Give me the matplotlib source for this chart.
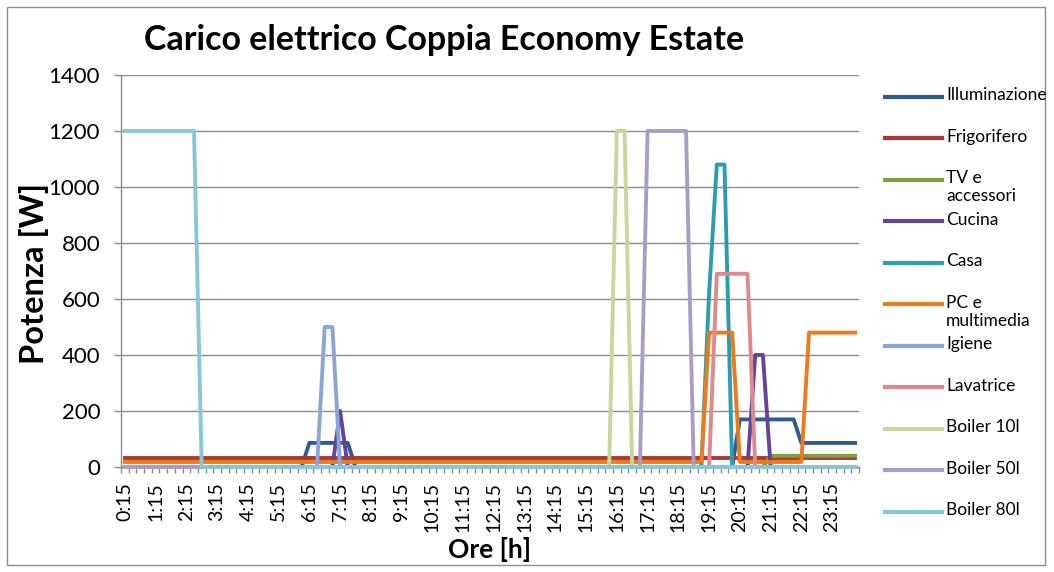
import matplotlib
matplotlib.use("Agg")
import numpy as np
import matplotlib.pyplot as plt
from matplotlib.lines import Line2D
from matplotlib.patches import Rectangle

plt.rcParams['font.family'] = ['Lato', 'DejaVu Sans']

# Quarter-hour slots from 0:15 to 24:00
slots = [f"{m // 60}:{m % 60:02d}" for m in range(15, 24 * 60 + 1, 15)]
tick_labels = slots[::4]          # 0:15, 1:15, ... 23:15

title = "Carico elettrico Coppia Economy Estate"
y_label = "Potenza [W]"
x_label = "Ore [h]"

series_names = [
    "Illuminazione", "Frigorifero", "TV e\naccessori", "Cucina", "Casa",
    "PC e\nmultimedia", "Igiene", "Lavatrice", "Boiler 10l", "Boiler 50l",
    "Boiler 80l",
]

# Power in W, one row per 4 hours (16 quarter-hours)
illuminazione = [
    0, 0, 0, 0, 0, 0, 0, 0, 0, 0, 0, 0, 0, 0, 0, 0,
    0, 0, 0, 0, 0, 0, 0, 0, 86, 86, 86, 86, 86, 86, 0, 0,
    0, 0, 0, 0, 0, 0, 0, 0, 0, 0, 0, 0, 0, 0, 0, 0,
    0, 0, 0, 0, 0, 0, 0, 0, 0, 0, 0, 0, 0, 0, 0, 0,
    0, 0, 0, 0, 0, 0, 0, 0, 0, 0, 0, 0, 0, 0, 0, 0,
    170, 170, 170, 170, 170, 170, 170, 170, 86, 86, 86, 86, 86, 86, 86, 86,
]
frigorifero = [
    32, 32, 32, 32, 32, 32, 32, 32, 32, 32, 32, 32, 32, 32, 32, 32,
    32, 32, 32, 32, 32, 32, 32, 32, 32, 32, 32, 32, 32, 32, 32, 32,
    32, 32, 32, 32, 32, 32, 32, 32, 32, 32, 32, 32, 32, 32, 32, 32,
    32, 32, 32, 32, 32, 32, 32, 32, 32, 32, 32, 32, 32, 32, 32, 32,
    32, 32, 32, 32, 32, 32, 32, 32, 32, 32, 32, 32, 32, 32, 32, 32,
    32, 32, 32, 32, 32, 32, 32, 32, 32, 32, 32, 32, 32, 32, 32, 32,
]
tv_accessori = [
    0, 0, 0, 0, 0, 0, 0, 0, 0, 0, 0, 0, 0, 0, 0, 0,
    0, 0, 0, 0, 0, 0, 0, 0, 0, 0, 0, 0, 0, 0, 0, 0,
    0, 0, 0, 0, 0, 0, 0, 0, 0, 0, 0, 0, 0, 0, 0, 0,
    0, 0, 0, 0, 0, 0, 0, 0, 0, 0, 0, 0, 0, 0, 0, 0,
    0, 0, 0, 0, 0, 0, 0, 0, 0, 0, 0, 0, 0, 0, 0, 0,
    0, 0, 0, 0, 40, 40, 40, 40, 40, 40, 40, 40, 40, 40, 40, 40,
]
cucina = [
    0, 0, 0, 0, 0, 0, 0, 0, 0, 0, 0, 0, 0, 0, 0, 0,
    0, 0, 0, 0, 0, 0, 0, 0, 0, 0, 0, 0, 200, 0, 0, 0,
    0, 0, 0, 0, 0, 0, 0, 0, 0, 0, 0, 0, 0, 0, 0, 0,
    0, 0, 0, 0, 0, 0, 0, 0, 0, 0, 0, 0, 0, 0, 0, 0,
    0, 0, 0, 0, 0, 0, 0, 0, 0, 0, 0, 0, 0, 0, 0, 0,
    0, 0, 400, 400, 0, 0, 0, 0, 0, 0, 0, 0, 0, 0, 0, 0,
]
casa = [
    0, 0, 0, 0, 0, 0, 0, 0, 0, 0, 0, 0, 0, 0, 0, 0,
    0, 0, 0, 0, 0, 0, 0, 0, 0, 0, 0, 0, 0, 0, 0, 0,
    0, 0, 0, 0, 0, 0, 0, 0, 0, 0, 0, 0, 0, 0, 0, 0,
    0, 0, 0, 0, 0, 0, 0, 0, 0, 0, 0, 0, 0, 0, 0, 0,
    0, 0, 0, 0, 0, 0, 0, 0, 0, 0, 0, 0, 620, 1080, 1080, 0,
    0, 0, 0, 0, 0, 0, 0, 0, 0, 0, 0, 0, 0, 0, 0, 0,
]
pc_multimedia = [
    18, 18, 18, 18, 18, 18, 18, 18, 18, 18, 18, 18, 18, 18, 18, 18,
    18, 18, 18, 18, 18, 18, 18, 18, 18, 18, 18, 18, 18, 18, 18, 18,
    18, 18, 18, 18, 18, 18, 18, 18, 18, 18, 18, 18, 18, 18, 18, 18,
    18, 18, 18, 18, 18, 18, 18, 18, 18, 18, 18, 18, 18, 18, 18, 18,
    18, 18, 18, 18, 18, 18, 18, 18, 18, 18, 18, 18, 480, 480, 480, 480,
    18, 18, 18, 18, 18, 18, 18, 18, 18, 480, 480, 480, 480, 480, 480, 480,
]
igiene = [
    0, 0, 0, 0, 0, 0, 0, 0, 0, 0, 0, 0, 0, 0, 0, 0,
    0, 0, 0, 0, 0, 0, 0, 0, 0, 0, 500, 500, 0, 0, 0, 0,
    0, 0, 0, 0, 0, 0, 0, 0, 0, 0, 0, 0, 0, 0, 0, 0,
    0, 0, 0, 0, 0, 0, 0, 0, 0, 0, 0, 0, 0, 0, 0, 0,
    0, 0, 0, 0, 0, 0, 0, 0, 0, 0, 0, 0, 0, 0, 0, 0,
    0, 0, 0, 0, 0, 0, 0, 0, 0, 0, 0, 0, 0, 0, 0, 0,
]
lavatrice = [
    0, 0, 0, 0, 0, 0, 0, 0, 0, 0, 0, 0, 0, 0, 0, 0,
    0, 0, 0, 0, 0, 0, 0, 0, 0, 0, 0, 0, 0, 0, 0, 0,
    0, 0, 0, 0, 0, 0, 0, 0, 0, 0, 0, 0, 0, 0, 0, 0,
    0, 0, 0, 0, 0, 0, 0, 0, 0, 0, 0, 0, 0, 0, 0, 0,
    0, 0, 0, 0, 0, 0, 0, 0, 0, 0, 0, 0, 0, 690, 690, 690,
    690, 690, 0, 0, 0, 0, 0, 0, 0, 0, 0, 0, 0, 0, 0, 0,
]
boiler_10l = [
    0, 0, 0, 0, 0, 0, 0, 0, 0, 0, 0, 0, 0, 0, 0, 0,
    0, 0, 0, 0, 0, 0, 0, 0, 0, 0, 0, 0, 0, 0, 0, 0,
    0, 0, 0, 0, 0, 0, 0, 0, 0, 0, 0, 0, 0, 0, 0, 0,
    0, 0, 0, 0, 0, 0, 0, 0, 0, 0, 0, 0, 0, 0, 0, 0,
    1200, 1200, 0, 0, 0, 0, 0, 0, 0, 0, 0, 0, 0, 0, 0, 0,
    0, 0, 0, 0, 0, 0, 0, 0, 0, 0, 0, 0, 0, 0, 0, 0,
]
boiler_50l = [
    0, 0, 0, 0, 0, 0, 0, 0, 0, 0, 0, 0, 0, 0, 0, 0,
    0, 0, 0, 0, 0, 0, 0, 0, 0, 0, 0, 0, 0, 0, 0, 0,
    0, 0, 0, 0, 0, 0, 0, 0, 0, 0, 0, 0, 0, 0, 0, 0,
    0, 0, 0, 0, 0, 0, 0, 0, 0, 0, 0, 0, 0, 0, 0, 0,
    0, 0, 0, 0, 1200, 1200, 1200, 1200, 1200, 1200, 0, 0, 0, 0, 0, 0,
    0, 0, 0, 0, 0, 0, 0, 0, 0, 0, 0, 0, 0, 0, 0, 0,
]
boiler_80l = [
    1200, 1200, 1200, 1200, 1200, 1200, 1200, 1200, 1200, 1200, 0, 0, 0, 0, 0, 0,
    0, 0, 0, 0, 0, 0, 0, 0, 0, 0, 0, 0, 0, 0, 0, 0,
    0, 0, 0, 0, 0, 0, 0, 0, 0, 0, 0, 0, 0, 0, 0, 0,
    0, 0, 0, 0, 0, 0, 0, 0, 0, 0, 0, 0, 0, 0, 0, 0,
    0, 0, 0, 0, 0, 0, 0, 0, 0, 0, 0, 0, 0, 0, 0, 0,
    0, 0, 0, 0, 0, 0, 0, 0, 0, 0, 0, 0, 0, 0, 0, 0,
]

series_values = [
    illuminazione, frigorifero, tv_accessori, cucina, casa, pc_multimedia,
    igiene, lavatrice, boiler_10l, boiler_50l, boiler_80l,
]
series_colors = [
    "#2E5C8E", "#A83A36", "#7EA040", "#62459A", "#2B9DB0", "#EE7A1A",
    "#8AA6D8", "#DE8A8C", "#C5D89A", "#A99CC8", "#86C8D8",
]

W, H = 1054, 572
fig = plt.figure(figsize=(W / 100, H / 100), dpi=100)
fig.patch.set_facecolor("white")

# outer chart frame
fig.patches.append(Rectangle((7 / W, 7 / H), (1045 - 7) / W, (565 - 7) / H,
                             transform=fig.transFigure, fill=False,
                             ec="#8c8c8c", lw=1.0))

ax_l, ax_r, ax_t, ax_b = 121, 859, 75, 467
ax = fig.add_axes([ax_l / W, 1 - ax_b / H, (ax_r - ax_l) / W, (ax_b - ax_t) / H])

x = np.arange(len(slots))
for vals, col in zip(series_values, series_colors):
    ax.plot(x, vals, color=col, lw=2.8, clip_on=False,
            solid_joinstyle="round", zorder=3)

grid_col = "#8c8c8c"
ax.set_xlim(-0.5, len(slots) - 0.5)
ax.set_ylim(0, 1400)
ax.set_yticks(np.arange(0, 1401, 200))
ax.yaxis.grid(True, color=grid_col, lw=1.0)
ax.set_axisbelow(True)
for side in ("top", "right"):
    ax.spines[side].set_visible(False)
for side in ("left", "bottom"):
    ax.spines[side].set_color(grid_col)
    ax.spines[side].set_linewidth(1.0)

ax.set_xticks(x[::4])
ax.set_xticklabels(tick_labels, rotation=90)
ax.set_xticks(np.arange(-0.5, len(slots), 1), minor=True)
ax.tick_params(axis="x", which="major", length=0, pad=11, labelsize=14)
ax.tick_params(axis="x", which="minor", length=4, color=grid_col, width=1)
ax.tick_params(axis="y", length=5, color=grid_col, width=1, pad=10, labelsize=16)

fig.text(444 / W, 1 - 40 / H, title, ha="center", va="center",
         fontsize=24.5, fontweight="bold")
fig.text(490 / W, 1 - 549 / H, x_label, ha="center", va="center",
         fontsize=19, fontweight="bold")
fig.text(34 / W, 1 - 273 / H, y_label, ha="center", va="center",
         rotation=90, fontsize=23.5, fontweight="bold")

# legend on the right
leg_y0, leg_dy = 96.7, 41.5
leg_fs = 12.5
for k, (name, col) in enumerate(zip(series_names, series_colors)):
    yy = leg_y0 + k * leg_dy
    fig.add_artist(Line2D([885 / W, 942 / W], [1 - yy / H, 1 - yy / H],
                          color=col, lw=3.0, transform=fig.transFigure))
    fig.text(946 / W, 1 - (yy - 9.5) / H, name, ha="left", va="top",
             fontsize=leg_fs, linespacing=1.15)

fig.savefig("out.png", dpi=100)
